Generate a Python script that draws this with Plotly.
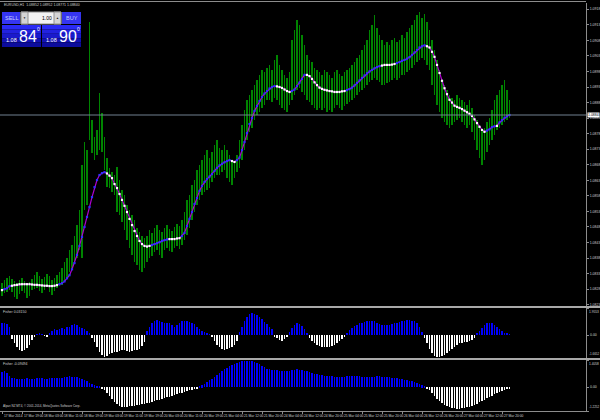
import plotly.graph_objects as go

# ---------------- data ----------------
symbol_title = "EURUSD,H1  1.08852 1.08952 1.08771 1.08840"
bid = 1.08840
ask = 1.08900
lot_text = "1.00"
copyright_text = "Alpari NZ MT4, © 2001-2014, MetaQuotes Software Corp."
fast_label = "Fisher 0.03150"
slow_label = "Fisher -0.09494"
fast_scale = [1.9553, -1.6652]
slow_scale = [1.4058, -1.2252]

time_labels = ["17 Mar 2014", "17 Mar 19:00", "18 Mar 03:00", "18 Mar 11:00", "18 Mar 19:00",
               "19 Mar 03:00", "19 Mar 11:00", "19 Mar 19:00", "20 Mar 03:00", "20 Mar 11:00",
               "20 Mar 19:00", "21 Mar 04:00", "21 Mar 12:00", "21 Mar 20:00", "24 Mar 04:00",
               "24 Mar 12:00", "24 Mar 20:00", "25 Mar 04:00", "25 Mar 12:00", "25 Mar 20:00",
               "26 Mar 04:00", "26 Mar 12:00", "26 Mar 20:00", "27 Mar 04:00", "27 Mar 12:00",
               "27 Mar 20:00"]

high = [1.08300, 1.08310, 1.08316, 1.08323, 1.08313, 1.08307, 1.08300, 1.08310, 1.08316, 1.08307,
        1.08297, 1.08303, 1.08313, 1.08326, 1.08335, 1.08323, 1.08313, 1.08319, 1.08329, 1.08323,
        1.08310, 1.08316, 1.08326, 1.08335, 1.08348, 1.08368, 1.08381, 1.08406, 1.08422, 1.08451,
        1.08487, 1.08535, 1.08680, 1.08753, 1.08728, 1.09139, 1.08824, 1.08770, 1.08792, 1.08911,
        1.08847, 1.08770, 1.08702, 1.08670, 1.08657, 1.08647, 1.08673, 1.08631, 1.08599, 1.08583,
        1.08551, 1.08535, 1.08519, 1.08503, 1.08477, 1.08464, 1.08451, 1.08445, 1.08451, 1.08471,
        1.08461, 1.08477, 1.08487, 1.08471, 1.08464, 1.08477, 1.08487, 1.08474, 1.08467, 1.08480,
        1.08490, 1.08483, 1.08503, 1.08528, 1.08567, 1.08583, 1.08615, 1.08631, 1.08663, 1.08680,
        1.08696, 1.08712, 1.08728, 1.08702, 1.08721, 1.08744, 1.08760, 1.08734, 1.08728, 1.08744,
        1.08728, 1.08712, 1.08696, 1.08689, 1.08712, 1.08760, 1.08808, 1.08856, 1.08889, 1.08905,
        1.08921, 1.08937, 1.08953, 1.08969, 1.08985, 1.08979, 1.08991, 1.09001, 1.08985, 1.09017,
        1.09033, 1.09001, 1.08985, 1.08969, 1.08959, 1.08979, 1.09081, 1.09114, 1.09146, 1.09130,
        1.09097, 1.09065, 1.09033, 1.09017, 1.09011, 1.08991, 1.08985, 1.08979, 1.08969, 1.08985,
        1.08979, 1.08969, 1.08959, 1.08979, 1.08985, 1.08972, 1.08966, 1.08979, 1.08985, 1.08991,
        1.09001, 1.09011, 1.09024, 1.09033, 1.09049, 1.09065, 1.09081, 1.09114, 1.09130, 1.09162,
        1.09120, 1.09097, 1.09081, 1.09065, 1.09075, 1.09065, 1.09081, 1.09088, 1.09075, 1.09081,
        1.09097, 1.09088, 1.09107, 1.09120, 1.09130, 1.09146, 1.09162, 1.09171, 1.09152, 1.09165,
        1.09139, 1.09114, 1.09081, 1.09049, 1.09017, 1.08985, 1.08953, 1.08937, 1.08921, 1.08905,
        1.08895, 1.08889, 1.08905, 1.08895, 1.08889, 1.08882, 1.08872, 1.08889, 1.08863, 1.08840,
        1.08824, 1.08808, 1.08792, 1.08798, 1.08818, 1.08831, 1.08856, 1.08889, 1.08905, 1.08921,
        1.08937, 1.08953, 1.08921, 1.08889]

low = [1.08258, 1.08268, 1.08271, 1.08278, 1.08271, 1.08255, 1.08249, 1.08265, 1.08274, 1.08268,
       1.08252, 1.08258, 1.08278, 1.08281, 1.08284, 1.08274, 1.08268, 1.08278, 1.08287, 1.08271,
       1.08262, 1.08274, 1.08284, 1.08290, 1.08294, 1.08303, 1.08316, 1.08335, 1.08348, 1.08368,
       1.08381, 1.08406, 1.08381, 1.08535, 1.08551, 1.08760, 1.08718, 1.08696, 1.08712, 1.08728,
       1.08721, 1.08663, 1.08609, 1.08606, 1.08593, 1.08583, 1.08528, 1.08519, 1.08496, 1.08471,
       1.08438, 1.08413, 1.08390, 1.08368, 1.08358, 1.08342, 1.08335, 1.08348, 1.08368, 1.08381,
       1.08387, 1.08400, 1.08406, 1.08390, 1.08381, 1.08406, 1.08413, 1.08403, 1.08400, 1.08413,
       1.08419, 1.08409, 1.08422, 1.08438, 1.08454, 1.08477, 1.08503, 1.08528, 1.08551, 1.08567,
       1.08583, 1.08593, 1.08599, 1.08606, 1.08625, 1.08638, 1.08647, 1.08647, 1.08657, 1.08663,
       1.08638, 1.08625, 1.08615, 1.08638, 1.08657, 1.08670, 1.08696, 1.08728, 1.08760, 1.08786,
       1.08798, 1.08824, 1.08840, 1.08850, 1.08863, 1.08872, 1.08889, 1.08889, 1.08882, 1.08895,
       1.08889, 1.08872, 1.08863, 1.08856, 1.08850, 1.08872, 1.08889, 1.08905, 1.08921, 1.08927,
       1.08914, 1.08905, 1.08889, 1.08882, 1.08872, 1.08863, 1.08856, 1.08863, 1.08856, 1.08863,
       1.08850, 1.08856, 1.08850, 1.08863, 1.08872, 1.08863, 1.08856, 1.08869, 1.08876, 1.08882,
       1.08889, 1.08895, 1.08905, 1.08914, 1.08921, 1.08927, 1.08937, 1.08946, 1.08953, 1.08959,
       1.08953, 1.08946, 1.08937, 1.08937, 1.08943, 1.08946, 1.08953, 1.08959, 1.08953, 1.08959,
       1.08969, 1.08969, 1.08979, 1.08985, 1.08991, 1.09001, 1.09011, 1.09017, 1.09024, 1.09017,
       1.09001, 1.08985, 1.08937, 1.08905, 1.08872, 1.08850, 1.08831, 1.08818, 1.08808, 1.08798,
       1.08808, 1.08818, 1.08824, 1.08831, 1.08818, 1.08808, 1.08798, 1.08808, 1.08786, 1.08760,
       1.08728, 1.08702, 1.08680, 1.08696, 1.08721, 1.08744, 1.08760, 1.08776, 1.08792, 1.08798,
       1.08808, 1.08818, 1.08824, 1.08831]

ma = [1.08277, 1.08280, 1.08283, 1.08290, 1.08291, 1.08293, 1.08294, 1.08296, 1.08296, 1.08296,
      1.08296, 1.08296, 1.08295, 1.08294, 1.08294, 1.08293, 1.08292, 1.08291, 1.08291, 1.08290,
      1.08290, 1.08291, 1.08293, 1.08296, 1.08299, 1.08305, 1.08315, 1.08325, 1.08344, 1.08364,
      1.08390, 1.08419, 1.08448, 1.08480, 1.08512, 1.08544, 1.08576, 1.08608, 1.08631, 1.08647,
      1.08653, 1.08656, 1.08652, 1.08645, 1.08637, 1.08618, 1.08605, 1.08586, 1.08567, 1.08548,
      1.08528, 1.08506, 1.08486, 1.08467, 1.08451, 1.08435, 1.08425, 1.08419, 1.08417, 1.08419,
      1.08422, 1.08425, 1.08428, 1.08431, 1.08435, 1.08438, 1.08440, 1.08441, 1.08441, 1.08441,
      1.08443, 1.08444, 1.08451, 1.08461, 1.08483, 1.08506, 1.08528, 1.08554, 1.08573, 1.08596,
      1.08612, 1.08625, 1.08634, 1.08642, 1.08650, 1.08660, 1.08670, 1.08678, 1.08683, 1.08688,
      1.08692, 1.08695, 1.08692, 1.08689, 1.08695, 1.08703, 1.08727, 1.08753, 1.08782, 1.08811,
      1.08830, 1.08853, 1.08869, 1.08885, 1.08898, 1.08909, 1.08917, 1.08925, 1.08930, 1.08933,
      1.08932, 1.08930, 1.08927, 1.08922, 1.08917, 1.08914, 1.08917, 1.08922, 1.08933, 1.08944,
      1.08956, 1.08969, 1.08969, 1.08965, 1.08956, 1.08945, 1.08936, 1.08928, 1.08924, 1.08921,
      1.08919, 1.08917, 1.08916, 1.08914, 1.08914, 1.08914, 1.08916, 1.08917, 1.08920, 1.08923,
      1.08928, 1.08935, 1.08943, 1.08951, 1.08959, 1.08967, 1.08974, 1.08980, 1.08985, 1.08990,
      1.08994, 1.08997, 1.08999, 1.09001, 1.09001, 1.09001, 1.09002, 1.09004, 1.09007, 1.09010,
      1.09014, 1.09017, 1.09021, 1.09026, 1.09033, 1.09041, 1.09049, 1.09057, 1.09061, 1.09064,
      1.09061, 1.09057, 1.09043, 1.09027, 1.09001, 1.08975, 1.08950, 1.08926, 1.08907, 1.08889,
      1.08880, 1.08870, 1.08866, 1.08863, 1.08859, 1.08854, 1.08849, 1.08844, 1.08837, 1.08826,
      1.08814, 1.08802, 1.08792, 1.08786, 1.08790, 1.08794, 1.08801, 1.08804, 1.08805, 1.08816,
      1.08823, 1.08831, 1.08836, 1.08840]

fisher_fast = [0.85, 0.9, 0.8, 0.55,
               -0.3, -0.6, -0.9, -1.1, -1.15, -1.1, -0.95, -0.7, -0.35,
               -0.1, 0.05, 0.1, 0.05, -0.05, -0.15, 0.1,
               0.3, 0.4, 0.35, 0.45, 0.5, 0.45, 0.55, 0.6, 0.7, 0.8, 0.75, 0.6,
               0.5, 0.4, 0.3, 0.15,
               -0.2, -0.5, -0.9, -1.2, -1.45, -1.6, -1.55, -1.4, -1.3, -1.25, -1.2, -1.15, -1.1, -1.1,
               -1.15, -1.2, -1.15, -1.1, -1.05, -1.0, -0.8, -0.5,
               0.3, 0.6, 0.85, 1.0, 1.1, 1.05, 0.95, 0.9, 0.9, 0.85, 0.7, 0.6, 0.75, 0.9, 1.0, 1.05,
               1.0, 0.95, 0.9, 0.8, 0.6, 0.4,
               0.3, 0.2, 0.1, 0.05, -0.1,
               -0.4, -0.7, -0.9, -1.0, -1.05, -1.0, -0.95, -0.9, -0.7, -0.4,
               0.2, 0.6, 1.0, 1.3, 1.5, 1.6, 1.55, 1.45, 1.3, 1.15, 0.95, 0.8, 0.6, 0.4,
               -0.1, -0.25, -0.35, -0.4, -0.3, -0.15,
               0.2, 0.5, 0.75, 0.85, 0.8, 0.65, 0.4, 0.15,
               -0.2, -0.45, -0.6, -0.7, -0.8, -0.85, -0.9, -0.9, -0.85, -0.8, -0.7, -0.6, -0.45, -0.3, -0.1,
               0.15, 0.35, 0.5, 0.65, 0.75, 0.85, 0.9, 0.95, 1.0, 1.05, 1.05, 1.0, 0.9, 0.8, 0.75,
               0.7, 0.7, 0.75, 0.8, 0.85, 0.9, 0.95, 1.0, 1.05, 1.1, 1.1, 1.05, 1.0, 0.85, 0.6,
               0.2, -0.2, -0.6, -1.0, -1.3, -1.5, -1.6, -1.6, -1.55, -1.45, -1.3, -1.15, -1.0, -0.85,
               -0.7, -0.6, -0.55, -0.5, -0.5, -0.45, -0.35, -0.2,
               0.1, 0.3, 0.5, 0.7, 0.85, 0.9, 0.85, 0.75, 0.6, 0.45, 0.3,
               0.15, 0.08, 0.03]

fisher_slow = [0.8, 0.85, 0.75, 0.6,
               0.5, 0.48, 0.45, 0.45, 0.44, 0.45, 0.46, 0.45, 0.44, 0.45, 0.47, 0.48, 0.46, 0.45, 0.44,
               0.46, 0.48, 0.5, 0.5, 0.49,
               0.5, 0.52, 0.55, 0.56, 0.55, 0.54, 0.52, 0.5,
               0.45, 0.38, 0.3, 0.22, 0.15, 0.1, 0.06, 0.03,
               -0.05, -0.15, -0.3, -0.45, -0.6, -0.75, -0.85, -0.95, -1.0, -1.02, -1.0, -0.98, -0.97,
               -0.95, -0.93, -0.9, -0.88, -0.85, -0.82, -0.8, -0.76, -0.72, -0.68, -0.64, -0.6, -0.56,
               -0.52, -0.48, -0.44, -0.4, -0.36, -0.32, -0.28, -0.24, -0.2, -0.16, -0.12, -0.08, -0.04,
               0.05, 0.1, 0.18, 0.26, 0.35, 0.44, 0.53, 0.62, 0.72, 0.82, 0.92, 1.0, 1.08, 1.15, 1.22, 1.27,
               1.3, 1.33, 1.35, 1.36, 1.35, 1.33, 1.3, 1.25, 1.18, 1.1,
               1.02, 0.96, 0.92, 0.9, 0.88, 0.87, 0.86, 0.86, 0.85, 0.85, 0.86, 0.88, 0.9, 0.92, 0.9,
               0.88, 0.85, 0.82, 0.78, 0.74, 0.7, 0.67, 0.64, 0.62, 0.6, 0.58,
               0.57, 0.56, 0.55, 0.55, 0.54, 0.54, 0.55, 0.56, 0.57, 0.58, 0.58, 0.57, 0.56, 0.55, 0.54,
               0.53, 0.53, 0.54, 0.55, 0.56, 0.56, 0.55, 0.54, 0.53, 0.52, 0.5, 0.48, 0.46, 0.44, 0.42,
               0.4, 0.37, 0.34, 0.3, 0.26, 0.21, 0.16, 0.1, 0.04,
               -0.05, -0.15, -0.3, -0.45, -0.6, -0.72, -0.82, -0.9, -0.97, -1.02, -1.06, -1.08, -1.1,
               -1.1, -1.09, -1.07, -1.04, -1.0, -0.95, -0.9, -0.84, -0.78, -0.71, -0.64, -0.57, -0.5,
               -0.43, -0.36, -0.3, -0.24, -0.19, -0.14, -0.11, -0.09]

# ---------------- geometry helpers (page pixels -> paper) ----------------
W, H = 600, 420
ML, MR, MT, MB = 0, 14, 3, 9
PW = W - ML - MR
PH = H - MT - MB


def px(x):
    return (x - ML) / PW


def py(y):
    return (H - MB - y) / PH


FONT = "Liberation Sans Narrow, Liberation Sans, sans-serif"
TXT = "#cfcfcf"
GRID = "#8c8c8c"

idx = list(range(len(high)))
span = [h - l for h, l in zip(high, low)]
dot_colors = ["#3030ff" if i > 0 and ma[i] > ma[i - 1] + 0.00002 else "#ffffff" for i in range(len(ma))]
fast_colors = ["#0000ff" if v >= 0 else "#ffffff" for v in fisher_fast]
slow_colors = ["#0000ff" if v >= 0 else "#ffffff" for v in fisher_slow]

fig = go.Figure()
fig.add_trace(go.Bar(x=idx, y=span, base=low, width=0.32, yaxis="y",
                     marker=dict(color="#008400", line=dict(width=0)), hoverinfo="skip"))
fig.add_trace(go.Scatter(x=idx, y=ma, mode="lines", yaxis="y",
                         line=dict(color="#b000d0", width=1.2), hoverinfo="skip"))
fig.add_trace(go.Scatter(x=idx, y=ma, mode="markers", yaxis="y",
                         marker=dict(size=2.2, symbol="square", color=dot_colors, line=dict(width=0)),
                         hoverinfo="skip"))
fig.add_trace(go.Bar(x=idx, y=fisher_fast, width=0.36, yaxis="y2",
                     marker=dict(color=fast_colors, line=dict(width=0)), hoverinfo="skip"))
fig.add_trace(go.Bar(x=idx, y=fisher_slow, width=0.36, yaxis="y3",
                     marker=dict(color=slow_colors, line=dict(width=0)), hoverinfo="skip"))

axis_style = dict(side="right", showgrid=False, zeroline=False, showline=True, automargin=False,
                  linecolor=GRID, linewidth=1, ticks="outside", ticklen=2, tickcolor=GRID,
                  tickfont=dict(size=3.5, color=TXT, family=FONT), fixedrange=True)

shapes = []
annotations = []

# current price line
shapes.append(dict(type="line", xref="paper", x0=0, x1=1, yref="y", y0=bid, y1=bid,
                   line=dict(color="#708090", width=1)))
# frame / separators
shapes.append(dict(type="line", xref="paper", yref="paper", x0=0, x1=px(586), y0=py(1.5), y1=py(1.5),
                   line=dict(color=GRID, width=1)))
for top, bot in [(306, 308), (358, 360)]:
    shapes.append(dict(type="rect", xref="paper", yref="paper", x0=0, x1=px(600),
                       y0=py(bot), y1=py(top), fillcolor="#a8a8a8", line=dict(width=0)))


def rect(x0, y0, x1, y1, fill, line=None):
    shapes.append(dict(type="rect", xref="paper", yref="paper", x0=px(x0), x1=px(x1),
                       y0=py(y1), y1=py(y0), fillcolor=fill,
                       line=dict(width=1 if line else 0, color=line or fill)))


def text(x, y, s, size, color="#ffffff", xanchor="left", yanchor="middle", family=FONT):
    annotations.append(dict(x=px(x), y=py(y), xref="paper", yref="paper", text=s, showarrow=False,
                            xanchor=xanchor, yanchor=yanchor, borderpad=0,
                            font=dict(size=size, color=color, family=family)))


# one-click trading panel
rect(2, 12, 20, 24, "#3535f0")
rect(21, 12, 61, 24, "#f2f2f2", "#909090")
rect(21, 12, 28, 24, "#d4d4d4", "#909090")
rect(54, 12, 61, 24, "#d4d4d4", "#909090")
rect(62, 12, 81, 24, "#3535f0")
for x0, x1 in [(2, 41), (42, 81)]:
    for k, col in enumerate(["#2a2af4", "#2222e0", "#1a1acc", "#1212b4", "#0c0c9c"]):
        rect(x0, 25 + k * 4.4, x1, 25 + (k + 1) * 4.4, col)
text(11, 18, "SELL", 5.5, "#c8d0ff", "center")
text(71.5, 18, "BUY", 5.5, "#c8d0ff", "center")
text(24.5, 18, "▼", 3, "#202020", "center")
text(57.5, 18, "▲", 3, "#202020", "center")
text(52.5, 18, lot_text, 5, "#000000", "right")
bid_s = f"{bid:.5f}"
ask_s = f"{ask:.5f}"
BIG = "Liberation Sans Narrow, Liberation Sans, sans-serif"
for x0, s in [(5, bid_s), (45, ask_s)]:
    text(x0, 40, s[:4], 5.5, family="Liberation Sans")
    text(x0 + 13, 36.5, s[4:6], 16, family=BIG)
    text(x0 + 31, 29.5, s[6:], 5, family="Liberation Sans")

# titles and labels
text(3, 5, symbol_title, 3.5, TXT)
text(2, 312, fast_label, 3.5, TXT)
text(2, 363.5, slow_label, 3.5, TXT)
text(2, 406, copyright_text, 3, TXT)

# pane scale labels (max / 0 / min) next to the right axis
for top, bot, sc in [(308, 358, fast_scale), (360, 411, slow_scale)]:
    text(588.5, top + 0.8, f"{sc[0]:.4f}", 3.2, TXT, "left", "top")
    text(588, bot - 0.8, f"{sc[1]:.4f}", 3.0, TXT, "left", "bottom")
annotations.append(dict(x=px(589), xref="paper", y=0, yref="y2", text="0.00", showarrow=False,
                        xanchor="left", yanchor="middle", borderpad=0,
                        font=dict(size=3.5, color=TXT, family=FONT)))
annotations.append(dict(x=px(589), xref="paper", y=0, yref="y3", text="0.00", showarrow=False,
                        xanchor="left", yanchor="middle", borderpad=0,
                        font=dict(size=3.5, color=TXT, family=FONT)))

# price tag on the axis
annotations.append(dict(x=px(587), xref="paper", y=bid, yref="y", text=f"{bid:.4f}", showarrow=False,
                        xanchor="left", yanchor="middle", bgcolor="#ffffff", borderpad=0,
                        font=dict(size=3.5, color="#000000", family=FONT)))

# time labels, left-aligned at each tick
tick_idx = idx[::8][:len(time_labels)]
for i, lab in zip(tick_idx, time_labels):
    annotations.append(dict(x=i, xref="x", y=py(415.5), yref="paper", text=lab, showarrow=False,
                            xanchor="left", yanchor="middle", xshift=0.5, borderpad=0,
                            font=dict(size=3.3, color=TXT, family=FONT)))

fig.update_layout(
    width=W, height=H, margin=dict(l=ML, r=MR, t=MT, b=MB, autoexpand=False),
    paper_bgcolor="#000000", plot_bgcolor="#000000",
    showlegend=False, barmode="overlay", bargap=0,
    xaxis=dict(domain=[0, 1], range=[-0.8, 233.6], anchor="y3", showgrid=False, zeroline=False,
               showline=True, linecolor=GRID, linewidth=1, ticks="outside", ticklen=2,
               tickcolor=GRID, tickvals=tick_idx, showticklabels=False, fixedrange=True,
               automargin=False),
    yaxis=dict(domain=[py(306), py(3)], range=[1.082259, 1.092001], tick0=1.0823, dtick=0.0005,
               tickformat=".4f", anchor="x", **axis_style),
    yaxis2=dict(domain=[py(358), py(308)], range=[fast_scale[1], fast_scale[0]],
                tickvals=[fast_scale[0], 0, fast_scale[1]], showticklabels=False,
                anchor="x", **axis_style),
    yaxis3=dict(domain=[0, py(360)], range=[slow_scale[1], slow_scale[0]],
                tickvals=[slow_scale[0], 0, slow_scale[1]], showticklabels=False,
                anchor="x", **axis_style),
    shapes=shapes, annotations=annotations,
)

fig.write_html("out.html", config={"displayModeBar": False},
               post_script="document.body.style.margin='0';document.body.style.background='#000';")
